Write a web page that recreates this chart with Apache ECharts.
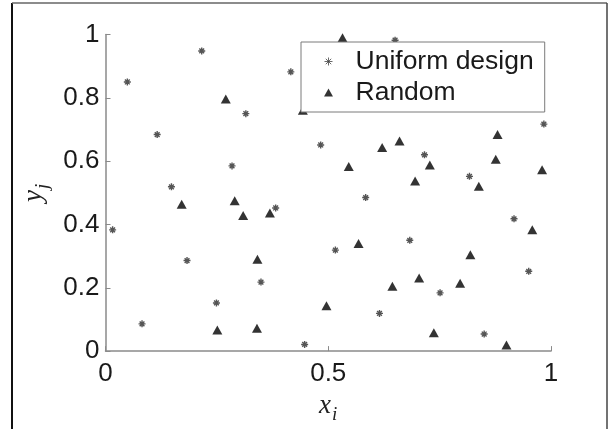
<!DOCTYPE html>
<html><head><meta charset="utf-8">
<script src="https://cdn.jsdelivr.net/npm/echarts@6/dist/echarts.min.js"></script>
<style>html,body{margin:0;padding:0;background:#fff}#c{width:609px;height:429px}</style>
</head><body><div id="c"></div>
<script>
const seriesNames = ['Uniform design', 'Random'];
const uniformX = [0.049, 0.216, 0.416, 0.116, 0.315, 0.284, 0.148, 0.382, 0.650, 0.483, 0.984, 0.716, 0.817, 0.584, 0.016, 0.183, 0.349, 0.249, 0.082, 0.447, 0.917, 0.516, 0.683, 0.950, 0.751, 0.615, 0.850];
const uniformY = [0.850, 0.948, 0.882, 0.684, 0.750, 0.585, 0.519, 0.452, 0.982, 0.651, 0.717, 0.620, 0.552, 0.485, 0.383, 0.286, 0.218, 0.152, 0.086, 0.021, 0.418, 0.319, 0.350, 0.252, 0.184, 0.119, 0.054];
const randomX = [0.270, 0.171, 0.290, 0.369, 0.532, 0.880, 0.621, 0.660, 0.546, 0.728, 0.876, 0.980, 0.695, 0.838, 0.443, 0.309, 0.341, 0.251, 0.340, 0.958, 0.568, 0.819, 0.644, 0.704, 0.796, 0.496, 0.737, 0.900];
const randomY = [0.796, 0.464, 0.475, 0.436, 0.990, 0.684, 0.643, 0.664, 0.583, 0.588, 0.606, 0.573, 0.537, 0.521, 0.761, 0.428, 0.290, 0.067, 0.072, 0.383, 0.340, 0.304, 0.205, 0.231, 0.214, 0.143, 0.058, 0.019];
const xRange = [0, 1], xStep = 0.5;
const yRange = [0, 1], yStep = 0.2;

const zip = (a, b) => a.map((v, i) => [v, b[i]]);
const sans = 'Liberation Sans, Arial, sans-serif';
const serif = 'Liberation Serif, Times New Roman, serif';
const starPath = 'path://M5,0L5,10M0,5L10,5M1.6,1.6L8.4,8.4M1.6,8.4L8.4,1.6';
const triPath = 'path://M5,0L10,9L0,9Z';
const axisGray = '#8a8a8a';

const chart = echarts.init(document.getElementById('c'), null, {renderer: 'canvas'});
chart.setOption({
  animation: false,
  backgroundColor: '#fff',
  grid: {left: 105.5, top: 34.5, right: 58, bottom: 73, containLabel: false},
  xAxis: {
    type: 'value', min: xRange[0], max: xRange[1], interval: xStep,
    splitLine: {show: false},
    axisLine: {show: true, onZero: false, lineStyle: {color: axisGray, width: 1.5}},
    axisTick: {show: true, inside: true, length: 5, lineStyle: {color: axisGray, width: 1}},
    axisLabel: {color: '#1a1a1a', fontFamily: sans, fontSize: 26, margin: 10},
    name: '{v|x}{s|i}', nameLocation: 'middle', nameGap: 40,
    nameTextStyle: {rich: {
      v: {fontFamily: serif, fontStyle: 'italic', fontSize: 27, color: '#222', lineHeight: 28, verticalAlign: 'top'},
      s: {fontFamily: serif, fontStyle: 'italic', fontSize: 19, color: '#222', lineHeight: 20, padding: [13, 0, 0, 1], verticalAlign: 'top'}
    }}
  },
  yAxis: {
    type: 'value', min: yRange[0], max: yRange[1], interval: yStep,
    splitLine: {show: false},
    axisLine: {show: true, onZero: false, lineStyle: {color: axisGray, width: 1.5}},
    axisTick: {show: true, inside: true, length: 5, lineStyle: {color: axisGray, width: 1}},
    axisLabel: {color: '#1a1a1a', fontFamily: sans, fontSize: 26, margin: 6},
    name: '{v|y}{s|j}', nameLocation: 'middle', nameGap: 52, nameRotate: 90,
    nameTextStyle: {rich: {
      v: {fontFamily: serif, fontStyle: 'italic', fontSize: 27, color: '#222', lineHeight: 28, verticalAlign: 'top'},
      s: {fontFamily: serif, fontStyle: 'italic', fontSize: 19, color: '#222', lineHeight: 20, padding: [13, 0, 0, 1], verticalAlign: 'top'}
    }}
  },
  legend: {
    orient: 'vertical', left: 301, top: 42, z: 10,
    padding: [6, 11, 6, 23], itemGap: 4, itemWidth: 10, itemHeight: 8,
    symbolKeepAspect: true,
    backgroundColor: '#fff', borderColor: '#7a7a7a', borderWidth: 1,
    textStyle: {fontFamily: sans, fontSize: 26.5, color: '#1a1a1a', padding: [0, 0, 0, 17]},
    data: [
      {name: seriesNames[0], icon: starPath, itemStyle: {color: 'transparent', borderColor: '#444', borderWidth: 1}},
      {name: seriesNames[1], icon: triPath, itemStyle: {color: '#000', borderWidth: 0}}
    ]
  },
  graphic: [
    {type: 'line', shape: {x1: 12, y1: 3, x2: 12, y2: 429}, style: {stroke: '#111', lineWidth: 2}, z: 20},
    {type: 'line', shape: {x1: 12, y1: 3, x2: 607, y2: 3}, style: {stroke: '#666', lineWidth: 1.5}, z: 20},
    {type: 'line', shape: {x1: 607, y1: 3, x2: 607, y2: 429}, style: {stroke: '#444', lineWidth: 1.5}, z: 20}
  ],
  series: [
    {name: seriesNames[0], type: 'scatter', data: zip(uniformX, uniformY),
      symbol: starPath, symbolSize: 7,
      itemStyle: {color: 'transparent', borderColor: '#2a2a2a', borderWidth: 1.4}},
    {name: seriesNames[1], type: 'scatter', data: zip(randomX, randomY),
      symbol: 'triangle', symbolSize: [10, 9],
      itemStyle: {color: '#000'}}
  ]
});
</script></body></html>
